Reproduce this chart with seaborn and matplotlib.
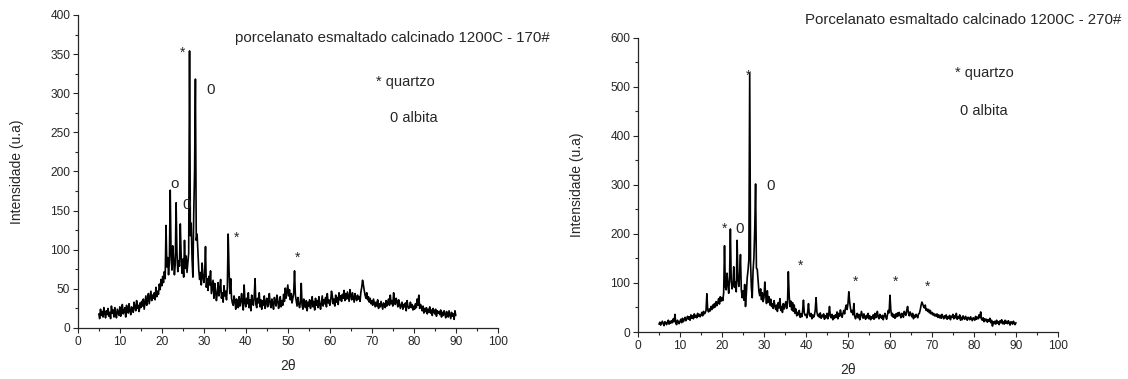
import numpy as np
import matplotlib
matplotlib.use("Agg")
import matplotlib.pyplot as plt
from matplotlib.ticker import MultipleLocator
import seaborn as sns

# 2-theta grid of the scans: 5 to 90 deg, 0.2 deg step
two_theta = np.linspace(5, 90, 426)

int_170 = [
    18, 12, 24, 16, 21,  14, 26, 19, 13, 22,  17, 25, 15, 20, 12,  28, 19, 23, 14, 26,
    18, 13, 24, 20, 16,  27, 15, 22, 30, 18,  21, 26, 14, 29, 23,  19, 31, 22, 17, 27,
    24, 20, 33, 26, 22,  35, 25, 29, 21, 32,  26, 34, 28, 37, 24,  33, 41, 29, 36, 44,
    31, 39, 47, 35, 42,  38, 45, 36, 52, 40,  47, 43, 56, 49, 62,  54, 66, 58, 72, 63,
    131, 78, 90, 68, 85,  176, 95, 74, 105, 88,  68, 82, 160, 97, 72,  86, 79, 133, 93, 70,
    88, 65, 112, 76, 92,  71, 84, 96, 354, 118,  134, 88, 65, 146, 200,  318, 112, 120, 97, 74,
    62, 71, 55, 83, 66,  58, 69, 104, 52, 63,  48, 66, 55, 73, 44,  52, 61, 38, 57, 47,
    35, 44, 58, 41, 50,  62, 38, 45, 33, 54,  41, 47, 36, 52, 120,  75, 44, 63, 38, 32,
    29, 41, 35, 24, 37,  31, 26, 40, 28, 35,  44, 30, 23, 55, 33,  27, 38, 31, 45, 26,
    36, 22, 42, 33, 29,  40, 63, 30, 26, 38,  32, 45, 27, 36, 24,  35, 29, 41, 25, 33,
    38, 27, 34, 44, 30,  26, 37, 31, 24, 39,  33, 28, 42, 36, 25,  31, 40, 27, 35, 29,
    43, 34, 51, 38, 47,  55, 41, 49, 36, 44,  32, 38, 45, 73, 42,  35, 28, 39, 31, 26,
    33, 57, 29, 24, 37,  30, 26, 35, 22, 33,  28, 36, 25, 31, 40,  27, 34, 23, 38, 29,
    35, 26, 40, 30, 24,  33, 41, 28, 36, 31,  39, 27, 44, 32, 36,  29, 34, 47, 41, 31,
    37, 28, 42, 33, 39,  30, 45, 36, 41, 34,  43, 38, 48, 35, 44,  37, 46, 40, 34, 49,
    42, 36, 45, 39, 33,  44, 38, 35, 42, 37,  40, 34, 46, 52, 61,  55, 48, 42, 38, 45,
    36, 40, 33, 38, 31,  35, 29, 37, 32, 27,  33, 28, 36, 25, 31,  27, 34, 29, 24, 32,
    30, 26, 35, 28, 33,  37, 29, 42, 31, 35,  28, 45, 33, 30, 38,  34, 27, 36, 31, 25,
    29, 33, 24, 30, 27,  32, 22, 35, 28, 25,  27, 33, 26, 30, 23,  28, 24, 31, 26, 37,
    29, 42, 25, 30, 27,  22, 28, 19, 25, 21,  26, 18, 24, 20, 27,  19, 23, 16, 25, 21,
    18, 24, 15, 22, 19,  21, 17, 23, 14, 20,  16, 22, 18, 13, 21,  19, 14, 22, 17, 12,
    20, 15, 18, 11, 22,  16,
]

int_270 = [
    16, 20, 14, 18, 22,  17, 13, 21, 19, 15,  20, 24, 16, 22, 18,  23, 19, 27, 21, 36,
    18, 15, 24, 20, 17,  22, 26, 19, 28, 21,  25, 30, 23, 27, 32,  26, 31, 24, 35, 28,
    33, 27, 37, 30, 34,  29, 38, 32, 36, 31,  35, 40, 33, 42, 37,  39, 44, 78, 45, 41,
    47, 43, 52, 46, 55,  49, 58, 51, 62, 54,  60, 68, 57, 72, 63,  70, 64, 80, 176, 92,
    86, 120, 98, 79, 110,  210, 104, 88, 96, 133,  91, 102, 82, 187, 108,  93, 118, 158, 86, 70,
    84, 65, 97, 52, 78,  110, 126, 148, 528, 142,  90, 70, 125, 152, 210,  302, 130, 128, 105, 82,
    74, 88, 66, 80, 62,  70, 102, 76, 58, 84,  61, 72, 55, 67, 52,  58, 48, 64, 53, 46,
    55, 42, 60, 49, 68,  44, 52, 40, 58, 47,  55, 62, 48, 58, 123,  74, 52, 63, 45, 60,
    42, 55, 38, 47, 33,  40, 35, 44, 30, 37,  31, 43, 65, 38, 34,  36, 29, 41, 58, 35,
    32, 38, 27, 35, 30,  34, 44, 70, 41, 33,  36, 30, 39, 28, 34,  31, 37, 26, 33, 29,
    38, 27, 35, 52, 32,  29, 36, 25, 33, 28,  35, 30, 41, 27, 38,  32, 45, 36, 30, 38,
    44, 37, 49, 55, 46,  58, 82, 62, 48, 40,  44, 35, 58, 32, 27,  33, 38, 29, 36, 25,
    31, 42, 35, 28, 37,  30, 26, 34, 29, 38,  27, 33, 25, 31, 28,  35, 26, 38, 29, 33,
    42, 30, 27, 36, 31,  28, 34, 25, 32, 38,  31, 26, 35, 44, 39,  75, 45, 33, 38, 30,
    35, 28, 37, 31, 39,  33, 40, 35, 29, 38,  36, 30, 42, 37, 34,  45, 52, 38, 33, 41,
    36, 31, 38, 27, 34,  30, 36, 33, 29, 37,  38, 45, 54, 61, 57,  52, 49, 55, 44, 47,
    42, 46, 39, 44, 37,  40, 35, 38, 33, 36,  32, 37, 30, 35, 29,  34, 28, 36, 31, 27,
    33, 29, 35, 26, 31,  28, 34, 25, 32, 30,  36, 27, 33, 29, 38,  26, 31, 28, 35, 24,
    30, 25, 33, 28, 26,  32, 27, 24, 30, 28,  25, 31, 27, 23, 29,  28, 24, 32, 26, 30,
    27, 35, 29, 41, 26,  24, 29, 21, 27, 23,  26, 20, 25, 22, 28,  19, 24, 12, 21, 17,
    22, 16, 24, 18, 21,  15, 23, 19, 25, 17,  21, 16, 24, 18, 22,  17, 23, 19, 14, 21,
    20, 16, 22, 18, 15,  19,
]

titles = ["porcelanato esmaltado calcinado 1200C - 170#",
          "Porcelanato esmaltado calcinado 1200C - 270#"]

# peak markers: (text, 2theta, intensity)
marks_170 = [("*", 25.0, 355), ("0", 31.7, 304), ("o", 23.1, 184), ("0", 26.0, 157),
             ("*", 37.9, 119), ("*", 52.4, 93)]
marks_270 = [("*", 26.2, 529), ("0", 31.7, 298), ("*", 20.7, 216), ("0", 24.3, 210),
             ("*", 38.6, 141), ("*", 51.9, 108), ("*", 61.4, 108), ("*", 69.0, 98)]

sns.set_style("ticks")
plt.rcParams["font.family"] = ["Liberation Sans", "DejaVu Sans"]

fig = plt.figure(figsize=(11.28, 3.79), dpi=100)
ax1 = fig.add_axes([0.069, 0.1346, 0.3723, 0.8259])
ax2 = fig.add_axes([0.5656, 0.124, 0.3723, 0.776])

sns.lineplot(x=two_theta, y=int_170, color="black", linewidth=1.2, ax=ax1)
sns.lineplot(x=two_theta, y=int_270, color="black", linewidth=1.2, ax=ax2)

for ax, ymax, ymaj in [(ax1, 400, 50), (ax2, 600, 100)]:
    ax.set_xlim(0, 100)
    ax.set_ylim(0, ymax)
    ax.xaxis.set_major_locator(MultipleLocator(10))
    ax.xaxis.set_minor_locator(MultipleLocator(5))
    ax.yaxis.set_major_locator(MultipleLocator(ymaj))
    ax.yaxis.set_minor_locator(MultipleLocator(ymaj / 2))
    ax.tick_params(which="major", direction="out", length=3.5, width=0.8,
                   pad=2, labelsize=8.6)
    ax.tick_params(which="minor", direction="out", length=2.2, width=0.8)
    ax.set_xlabel("2θ", fontsize=10, labelpad=8.5)
    ax.set_ylabel("Intensidade (u.a)", fontsize=10, labelpad=19)
    for s in ["left", "bottom"]:
        ax.spines[s].set_linewidth(0.9)
sns.despine(fig=fig)

ax1.text(37.4, 371, titles[0], fontsize=10.8, ha="left", va="center")
ax2.text(39.8, 637, titles[1], fontsize=10.8, ha="left", va="center")

for ax, marks, dy in [(ax1, marks_170, 0.7825), (ax2, marks_270, 0.49)]:
    for t, x, y in marks:
        if t == "*":
            ax.text(x, y - 3 / dy, t, fontsize=10, ha="center", va="center")
        else:
            ax.text(x, y, t, fontsize=11, ha="center", va="center")

ax1.text(71.0, 314, "* quartzo", fontsize=10.5, ha="left", va="center")
ax1.text(74.3, 268, "0 albita", fontsize=10.5, ha="left", va="center")
ax2.text(75.5, 529, "* quartzo", fontsize=10.5, ha="left", va="center")
ax2.text(76.7, 451, "0 albita", fontsize=10.5, ha="left", va="center")

fig.savefig("out.png", dpi=100)
